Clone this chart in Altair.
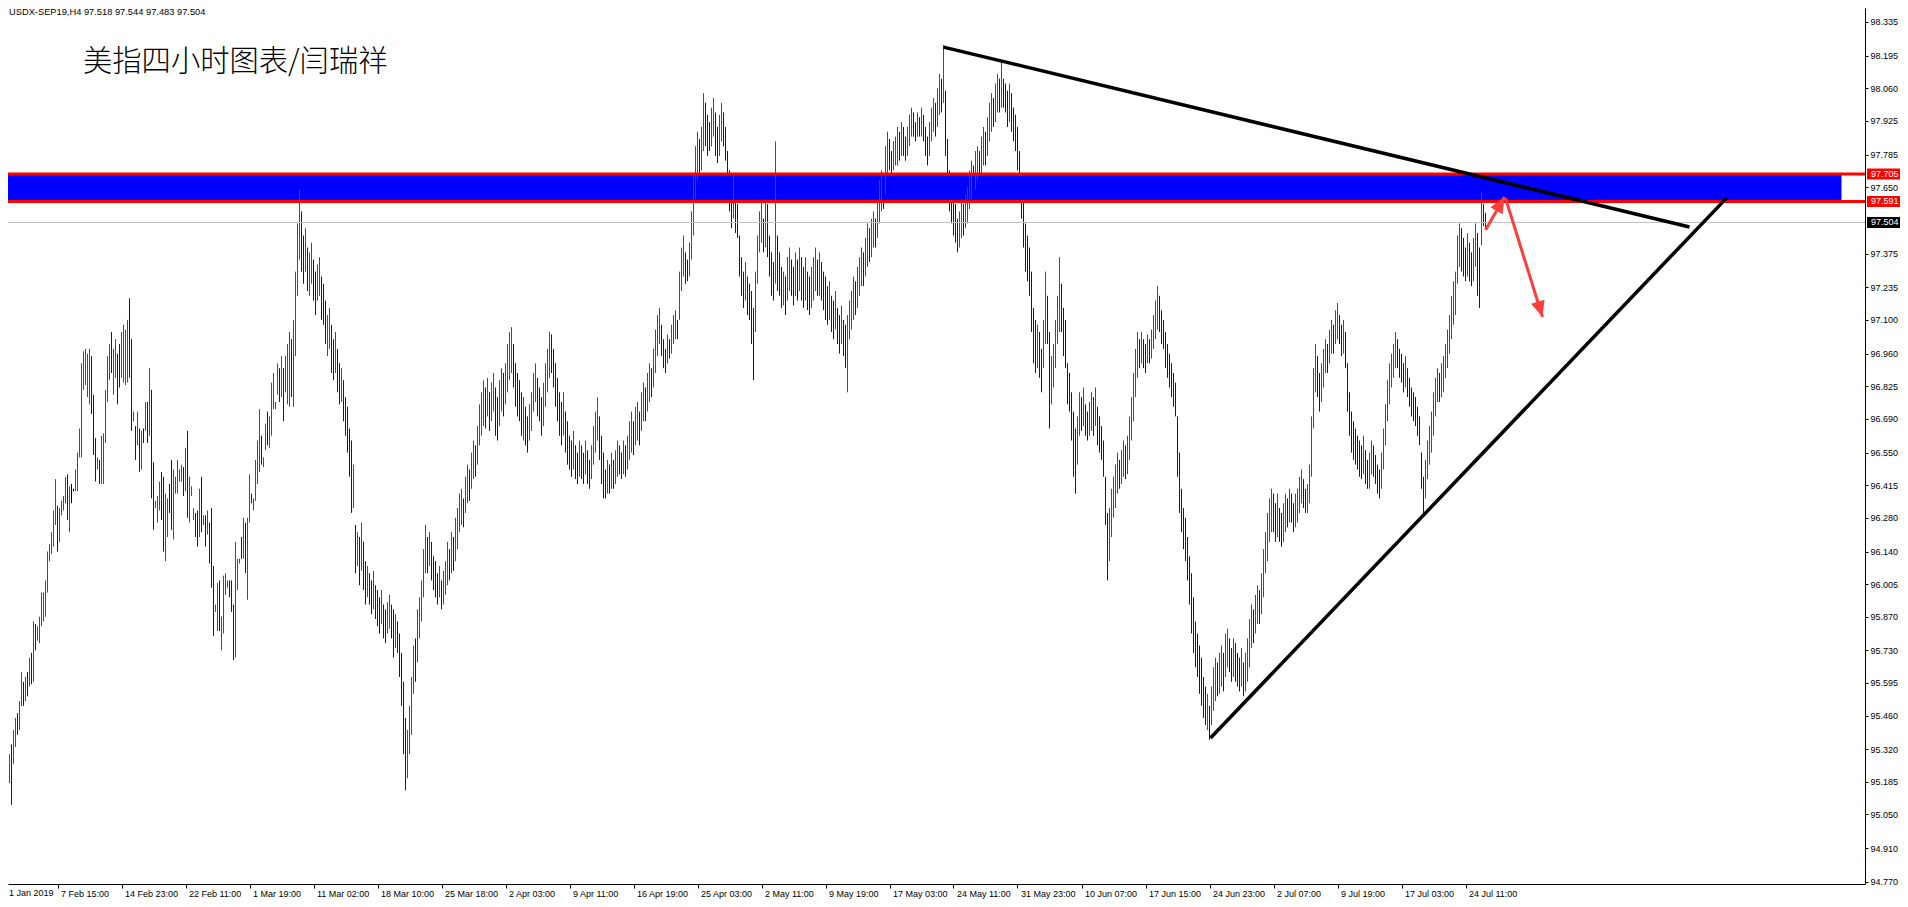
import altair as alt
import pandas as pd

# ---------------- data ----------------
symbol_caption = "USDX-SEP19,H4  97.518 97.544 97.483 97.504"
chart_title = "美指四小时图表/闫瑞祥"

high = [
95.36,95.33,95.38,95.32,95.30,95.34,95.40,95.45,95.47,95.52,
95.64,95.60,95.62,95.64,95.70,95.72,95.85,95.84,95.83,95.87,
95.97,95.97,96.02,96.14,96.17,96.22,96.31,96.44,96.33,96.32,
96.35,96.37,96.45,96.46,96.41,96.42,96.40,96.48,96.55,96.65,
96.92,96.97,96.98,96.96,96.98,96.95,96.79,96.61,96.53,96.52,
96.62,96.63,96.81,96.95,97.00,97.05,96.98,97.02,96.96,97.00,
97.05,97.08,97.06,97.10,97.19,97.02,96.72,96.66,96.72,96.65,
96.64,96.65,96.76,96.76,96.90,96.81,96.51,96.35,96.37,96.43,
96.47,96.45,96.38,96.36,96.42,96.52,96.48,96.45,96.52,96.48,
96.50,96.49,96.57,96.64,96.45,96.41,96.32,96.30,96.31,96.40,
96.45,96.29,96.29,96.31,96.26,96.32,96.08,95.92,96.01,96.02,
95.87,96.04,96.05,96.02,96.02,96.02,95.92,96.18,96.11,96.11,
96.20,96.28,96.26,96.28,96.46,96.38,96.36,96.52,96.60,96.73,
96.62,96.53,96.67,96.72,96.70,96.84,96.88,96.76,96.92,96.90,
96.95,96.90,96.95,97.00,97.05,97.02,97.10,97.30,97.50,97.64,
97.55,97.45,97.48,97.40,97.38,97.42,97.35,97.30,97.33,97.36,
97.28,97.25,97.18,97.12,97.15,97.08,97.02,97.05,96.98,96.92,
96.90,96.85,96.78,96.74,96.65,96.60,96.50,96.25,96.22,96.20,
96.26,96.18,96.10,96.08,96.05,96.02,96.06,96.00,95.98,95.95,
95.98,95.92,95.90,95.93,95.96,95.92,95.90,95.88,95.85,95.80,
95.72,95.60,95.45,95.40,95.50,95.62,95.75,95.78,95.90,95.95,
96.02,96.15,96.25,96.20,96.22,96.18,96.12,96.10,96.05,96.08,
96.02,96.06,96.10,96.18,96.15,96.22,96.20,96.28,96.32,96.38,
96.40,96.36,96.45,96.50,96.48,96.55,96.60,96.58,96.66,96.75,
96.80,96.85,96.82,96.86,96.80,96.84,96.88,96.82,96.78,96.85,
96.90,96.88,96.92,97.00,97.05,97.07,97.00,96.92,96.88,96.85,
96.80,96.78,96.74,96.70,96.75,96.80,96.88,96.92,96.86,96.82,
96.78,96.84,96.92,96.98,97.05,97.04,96.98,96.92,96.86,96.80,
96.76,96.80,96.72,96.68,96.62,96.60,96.64,96.58,96.55,96.60,
96.58,96.55,96.60,96.56,96.52,96.58,96.66,96.72,96.78,96.70,
96.62,96.55,96.48,96.52,96.50,96.55,96.52,96.56,96.60,96.58,
96.55,96.60,96.58,96.62,96.68,96.72,96.68,96.74,96.76,96.72,
96.80,96.84,96.82,96.88,96.92,96.90,96.98,97.06,97.12,97.15,
97.08,97.02,96.98,97.04,97.02,97.08,97.12,97.14,97.10,97.30,
97.40,97.45,97.38,97.35,97.42,97.55,97.70,97.82,97.88,97.85,
97.90,98.04,98.00,97.95,97.92,97.98,98.02,97.96,97.90,97.95,
98.00,97.96,97.90,97.80,97.72,97.65,97.70,97.62,97.58,97.45,
97.36,97.30,97.34,97.28,97.25,97.22,97.15,97.30,97.45,97.55,
97.60,97.52,97.60,97.58,97.45,97.38,97.34,97.84,97.45,97.38,
97.32,97.30,97.28,97.36,97.40,97.35,97.32,97.38,97.35,97.40,
97.36,97.32,97.36,97.30,97.28,97.32,97.36,97.40,97.35,97.38,
97.34,97.30,97.28,97.24,97.26,97.20,97.18,97.22,97.15,97.12,
97.16,97.10,97.08,97.12,97.18,97.22,97.28,97.26,97.32,97.36,
97.40,97.38,97.44,97.50,97.48,97.52,97.55,97.52,97.60,97.68,
97.72,97.70,97.82,97.88,97.85,97.80,97.84,97.86,97.90,97.88,
97.92,97.90,97.86,97.90,97.95,97.98,97.96,97.92,97.96,97.94,
97.98,97.95,97.90,97.86,97.92,97.98,98.02,98.00,98.06,98.12,
98.10,98.24,98.05,97.85,97.72,97.68,97.62,97.58,97.52,97.55,
97.60,97.58,97.62,97.65,97.72,97.76,97.74,97.80,97.82,97.80,
97.86,97.90,97.88,97.94,98.00,98.04,98.02,98.08,98.12,98.10,
98.17,98.10,98.08,98.05,98.08,98.04,97.98,97.95,97.90,97.80,
97.70,97.60,97.50,97.45,97.40,97.30,97.15,97.10,97.08,97.05,
96.98,97.10,97.30,97.20,97.05,96.95,97.00,97.10,97.20,97.36,
97.25,97.15,97.10,96.92,96.88,96.80,96.72,96.65,96.70,96.80,
96.78,96.82,96.75,96.72,96.76,96.80,96.78,96.82,96.74,96.70,
96.66,96.60,96.45,96.30,96.32,96.40,96.45,96.50,96.55,96.52,
96.56,96.60,96.58,96.62,96.70,96.78,96.88,96.98,97.05,97.02,
97.05,97.02,97.00,97.04,97.02,97.06,97.12,97.18,97.24,97.20,
97.14,97.10,97.05,97.00,96.96,96.92,96.88,96.84,96.70,96.55,
96.40,96.32,96.28,96.20,96.12,96.05,95.95,95.85,95.80,95.75,
95.70,95.62,95.58,95.55,95.50,95.58,95.66,95.70,95.68,95.72,
95.75,95.72,95.80,95.82,95.78,95.74,95.78,95.76,95.72,95.70,
95.74,95.68,95.72,95.78,95.86,95.92,95.90,95.96,96.00,95.98,
96.05,96.15,96.22,96.30,96.36,96.40,96.38,96.34,96.38,96.32,
96.30,96.34,96.38,96.36,96.40,96.38,96.34,96.38,96.40,96.45,
96.48,96.44,96.40,96.42,96.50,96.70,96.90,97.00,96.95,96.88,
96.92,96.98,97.02,97.00,97.06,97.10,97.08,97.14,97.17,97.12,
97.08,97.10,97.05,96.92,96.80,96.72,96.68,96.65,96.62,96.60,
96.58,96.62,96.56,96.52,96.55,96.60,96.58,96.54,96.50,96.48,
96.55,96.65,96.75,96.85,96.92,96.96,97.00,97.05,97.02,96.98,
96.96,96.92,96.95,96.90,96.86,96.82,96.80,96.78,96.74,96.70,
96.55,96.45,96.52,96.60,96.66,96.72,96.80,96.86,96.90,96.88,
96.92,96.95,97.00,97.06,97.12,97.20,97.26,97.30,97.45,97.50,
97.48,97.44,97.40,97.46,97.42,97.38,97.44,97.50,97.46,97.40,
97.63,97.58,97.544]

low = [
95.27,95.22,95.25,95.10,95.18,95.09,95.26,95.33,95.38,95.40,
95.50,95.50,95.52,95.54,95.58,95.59,95.60,95.73,95.77,95.76,
95.83,95.85,95.87,95.97,96.10,96.13,96.16,96.25,96.14,96.18,
96.29,96.31,96.34,96.27,96.22,96.34,96.39,96.39,96.39,96.53,
96.53,96.81,96.83,96.78,96.75,96.71,96.54,96.43,96.48,96.42,
96.42,96.42,96.59,96.76,96.85,96.88,96.79,96.86,96.75,96.82,
96.86,96.84,96.83,96.84,96.86,96.64,96.68,96.52,96.58,96.47,
96.48,96.59,96.64,96.59,96.62,96.36,96.23,96.32,96.26,96.31,
96.27,96.14,96.10,96.20,96.30,96.23,96.19,96.38,96.38,96.43,
96.43,96.37,96.39,96.28,96.26,96.37,96.27,96.20,96.16,96.20,
96.22,96.25,96.16,96.21,96.09,95.99,95.79,95.89,95.81,95.81,
95.73,95.80,95.96,95.99,95.95,95.89,95.69,95.70,95.98,96.09,
96.11,96.11,96.05,95.94,96.26,96.34,96.31,96.35,96.42,96.47,
96.50,96.49,96.56,96.58,96.57,96.62,96.73,96.73,96.79,96.76,
96.78,96.68,96.80,96.75,96.74,96.78,96.74,96.95,97.20,97.35,
97.30,97.25,97.30,97.22,97.20,97.25,97.18,97.12,97.18,97.20,
97.10,97.08,97.00,96.95,96.98,96.88,96.85,96.88,96.80,96.75,
96.76,96.68,96.62,96.55,96.45,96.30,96.32,96.05,96.08,96.00,
96.06,95.98,95.92,95.95,95.92,95.88,95.90,95.86,95.83,95.80,
95.84,95.78,95.76,95.80,95.82,95.78,95.70,95.74,95.72,95.62,
95.50,95.30,95.15,95.20,95.30,95.38,95.55,95.60,95.68,95.78,
95.85,95.95,96.05,96.05,96.08,96.02,95.98,95.95,95.92,95.95,
95.90,95.92,95.96,96.00,96.02,96.05,96.06,96.10,96.15,96.22,
96.25,96.24,96.30,96.34,96.35,96.40,96.44,96.45,96.50,96.58,
96.62,96.66,96.65,96.70,96.64,96.68,96.72,96.62,96.60,96.66,
96.72,96.70,96.75,96.80,96.85,96.88,96.82,96.74,96.70,96.68,
96.62,96.60,96.58,96.55,96.60,96.64,96.72,96.76,96.70,96.68,
96.62,96.66,96.74,96.80,96.86,96.88,96.82,96.74,96.68,96.62,
96.58,96.62,96.55,96.50,96.48,96.45,96.48,96.44,96.42,96.45,
96.44,96.42,96.46,96.42,96.40,96.44,96.50,96.55,96.60,96.52,
96.42,96.36,96.36,96.38,96.38,96.40,96.40,96.42,96.45,96.46,
96.44,96.46,96.45,96.48,96.52,96.55,96.54,96.58,96.60,96.58,
96.64,96.68,96.68,96.72,96.76,96.78,96.82,96.88,96.95,97.00,
96.95,96.90,96.88,96.92,96.94,96.96,97.00,97.02,97.02,97.10,
97.22,97.28,97.25,97.26,97.28,97.35,97.45,97.60,97.68,97.70,
97.72,97.80,97.82,97.78,97.80,97.82,97.86,97.78,97.75,97.78,
97.84,97.82,97.76,97.62,97.55,97.48,97.52,97.46,97.44,97.28,
97.20,97.15,97.18,97.12,97.10,97.00,96.85,97.05,97.25,97.38,
97.42,97.38,97.40,97.36,97.28,97.20,97.18,97.25,97.22,97.20,
97.15,97.16,97.12,97.18,97.22,97.20,97.16,97.20,97.18,97.22,
97.18,97.15,97.18,97.14,97.12,97.15,97.18,97.22,97.20,97.20,
97.18,97.14,97.10,97.08,97.10,97.05,97.02,97.06,97.00,96.96,
97.00,96.95,96.90,96.80,97.02,97.06,97.10,97.12,97.15,97.20,
97.24,97.24,97.28,97.32,97.34,97.36,97.40,97.40,97.44,97.50,
97.55,97.56,97.62,97.70,97.72,97.70,97.72,97.74,97.74,97.76,
97.78,97.78,97.76,97.78,97.82,97.86,97.86,97.84,97.86,97.86,
97.86,97.84,97.78,97.74,97.78,97.84,97.88,97.86,97.90,97.95,
97.96,98.00,97.78,97.62,97.55,97.50,97.45,97.42,97.38,97.40,
97.44,97.45,97.48,97.50,97.56,97.60,97.62,97.64,97.68,97.66,
97.70,97.74,97.74,97.78,97.84,97.88,97.90,97.92,97.96,97.96,
97.98,97.98,97.96,97.90,97.92,97.88,97.84,97.80,97.72,97.60,
97.52,97.40,97.30,97.26,97.20,97.05,96.92,96.88,96.90,96.86,
96.80,96.90,97.00,97.00,96.65,96.75,96.82,96.90,97.00,97.05,
97.05,96.95,96.90,96.75,96.72,96.60,96.45,96.38,96.50,96.62,
96.64,96.66,96.62,96.60,96.62,96.64,96.62,96.66,96.58,96.55,
96.52,96.45,96.25,96.02,96.10,96.20,96.28,96.32,96.38,96.40,
96.42,96.45,96.44,96.46,96.52,96.60,96.68,96.78,96.86,96.90,
96.92,96.90,96.88,96.92,96.92,96.94,96.98,97.02,97.06,97.05,
97.00,96.98,96.90,96.86,96.82,96.78,96.74,96.70,96.45,96.30,
96.22,96.15,96.10,96.02,95.92,95.80,95.72,95.66,95.62,95.55,
95.50,95.45,95.42,95.40,95.36,95.42,95.48,95.52,95.54,95.55,
95.58,95.56,95.62,95.66,95.64,95.60,95.62,95.60,95.58,95.56,
95.58,95.54,95.56,95.60,95.66,95.74,95.76,95.80,95.84,95.84,
95.88,95.95,96.05,96.10,96.18,96.22,96.22,96.18,96.20,96.18,
96.16,96.18,96.22,96.24,96.26,96.26,96.22,96.24,96.26,96.30,
96.34,96.32,96.30,96.30,96.34,96.45,96.65,96.80,96.78,96.72,
96.76,96.82,96.88,96.88,96.92,96.96,96.96,97.00,97.02,97.00,
96.95,96.96,96.90,96.72,96.62,96.55,96.52,96.50,96.48,96.45,
96.44,96.46,96.42,96.40,96.40,96.46,96.45,96.42,96.38,96.36,
96.40,96.48,96.58,96.68,96.75,96.82,96.86,96.90,96.90,96.86,
96.84,96.80,96.82,96.78,96.74,96.70,96.68,96.66,96.62,96.58,
96.40,96.30,96.36,96.44,96.50,96.55,96.62,96.70,96.76,96.76,
96.78,96.80,96.86,96.90,96.96,97.02,97.08,97.12,97.25,97.32,
97.30,97.28,97.26,97.28,97.26,97.24,97.26,97.32,97.20,97.15,
97.41,97.49,97.483]

# r = bar closed up (red), b = closed down (blue), k = unchanged (black)
direction = (
"brbbrbrrbr" "rbrbrbrbrr" "rrrrrrrrbr" "rrrbrkkrrr" "rrrrrbbbrb"
"rrrrrbrrbb" "rrrrbbrbrb" "rbrbrbbrrr" "bbrrbbrrrr" "rbrbrrrbbr"
"brbrbbbrrb" "rrrrbbbrrr" "brbrrbrrrr" "brrbrrrrrb" "rbrrrbrrrr"
"bbrbrrbbrr" "bbbrrbbrbb" "rbbbbbrbrb" "rbbrbbrbbb" "rbbrrbbrbb"
"bbbrrrrbrr" "rrrbrbbbbr" "brrrbrbrrr" "rbrrbrrbrr" "rrbrbrrbbr"
"rbrrrrbbbb" "brbbrrrrbb" "brrrrbbbbb" "brbbbbrbbr" "bbrbbrrrrb"
"bbbrbrbrrb" "brbrrrbrrb" "rrbrrbrrrr" "bbbrbrrrbr" "rrbbrrrrrb"
"rrbbbrrbbr" "rbbbbbrbbb" "bbrbbbbrrr" "rbrbbbbrbb" "brbrrbbrbr"
"bbrbbrrrbr" "bbbbrbbrbb" "rbbrrrrbrr" "rbrrbrrbrr" "rbrrbbrrrb"
"rbbrrrbbrb" "rbbbrrrbrr" "brbbbbbbbr" "rbrrrrbrrb" "rrbrrrbrrb"
"rbbbrbbbbb" "bbbbbbbbrb" "brrbbrrrrr" "bbbbbbbbrr" "brbbrrbrbb"
"bbbbrrrrrb" "rrbrrrrrrb" "rbbrbrrrrb" "bbbbbbbbbb" "bbbbbbbbbb"
"bbbrbrrrbr" "rbrrbbrbbb" "rbrrrrbrrb" "rrrrrrbbrb" "brrbrbbrrr"
"rbbrrrrrbb" "rrrbrrbrrb" "brbbbbbbbb" "brbbrrbbbb" "rrrrrrrrbb"
"bbrbbbbbbb" "bbrrrrrrrb" "rrrrrrrrrr" "bbbrbbrrbb" "rbb")

first_time_label = "1 Jan 2019"
time_tick_bars = [28, 60, 92, 124, 156, 188, 220, 252, 284, 316, 348,
                  380, 412, 444, 476, 508, 540, 572, 604, 636, 668, 700, 732]
time_tick_labels = ["7 Feb 15:00", "14 Feb 23:00", "22 Feb 11:00",
                    "1 Mar 19:00", "11 Mar 02:00", "18 Mar 10:00", "25 Mar 18:00",
                    "2 Apr 03:00", "9 Apr 11:00", "16 Apr 19:00", "25 Apr 03:00",
                    "2 May 11:00", "9 May 19:00", "17 May 03:00", "24 May 11:00",
                    "31 May 23:00", "10 Jun 07:00", "17 Jun 15:00", "24 Jun 23:00",
                    "2 Jul 07:00", "9 Jul 19:00", "17 Jul 03:00", "24 Jul 11:00"]
price_ticks = [98.335, 98.195, 98.060, 97.925, 97.785, 97.650, 97.375, 97.235,
               97.100, 96.960, 96.825, 96.690, 96.550, 96.415, 96.280, 96.140,
               96.005, 95.870, 95.730, 95.595, 95.460, 95.320, 95.185, 95.050,
               94.910, 94.770]

zone_low = 97.591
zone_high = 97.705
zone_end_bar = 920
last_price = 97.504

trend_id = ["down", "down", "up", "up"]
trend_bar = [471, 844, 604.5, 862.5]
trend_price = [98.231, 97.485, 95.367, 97.605]

arrow_tail_bar = [742, 752]
arrow_tail_price = [97.473, 97.605]
arrow_tip_bar = [751.5, 770.5]
arrow_tip_price = [97.610, 97.112]
arrow_angle = [30, 163]

# ---------------- chart ----------------
W, H = 1857, 876
FONT = "Liberation Sans"
xs = alt.Scale(domain=[3.25, 931.75], nice=False, zero=False)
ys = alt.Scale(domain=[94.7617, 98.393], nice=False, zero=False)

label_js = "[" + ",".join("'%s'" % s for s in time_tick_labels) + "]"
x_axis = alt.Axis(values=time_tick_bars, labelExpr=label_js + "[round((datum.value - 28) / 32)]",
                  orient="bottom", title=None, grid=False, domainColor="black", domainWidth=1,
                  tickColor="black", tickSize=4, tickWidth=1, labelAlign="left",
                  labelBaseline="top", labelOffset=3, labelPadding=1, labelFont=FONT,
                  labelFontSize=9, labelColor="black", labelOverlap=False,
                  labelBound=False, labelFlush=False)
y_axis = alt.Axis(values=price_ticks, format=".3f", orient="right", title=None, grid=False,
                  domainColor="black", domainWidth=1, tickColor="black", tickSize=3,
                  labelPadding=2, labelFont=FONT, labelFontSize=9, labelColor="black",
                  labelOverlap=False, labelBound=False, labelFlush=False)


def X(field):
    return alt.X(field, scale=xs, axis=x_axis)


def Y(field):
    return alt.Y(field, scale=ys, axis=y_axis)


n = min(len(high), len(low), len(direction))
bars_df = pd.DataFrame({"bar": list(range(n)), "high": high[:n], "low": low[:n],
                        "dir": list(direction[:n])})

zone = alt.Chart(pd.DataFrame({"b0": [-10], "b1": [zone_end_bar], "p0": [zone_low],
                               "p1": [zone_high]})).mark_rect(color="#0000ff", clip=True).encode(
    x=X("b0:Q"), x2="b1:Q", y=Y("p0:Q"), y2="p1:Q")

bars = alt.Chart(bars_df).mark_rule(strokeWidth=1).encode(
    x=X("bar:Q"), y=Y("low:Q"), y2="high:Q",
    color=alt.Color("dir:N", scale=alt.Scale(domain=["r", "b", "k"],
                                             range=["#ff0000", "#0000ff", "#000000"]),
                    legend=None))

hlines_df = pd.DataFrame({"p": [last_price, zone_high, zone_low],
                          "c": ["#c0c0c0", "#ff0000", "#ff0000"], "w": [1, 3, 3]})
hlines = alt.Chart(hlines_df).mark_rule().encode(
    y=Y("p:Q"), color=alt.Color("c:N", scale=None),
    strokeWidth=alt.StrokeWidth("w:Q", scale=None))

trend_df = pd.DataFrame({"id": trend_id, "bar": trend_bar, "price": trend_price})
trend = alt.Chart(trend_df).mark_line(color="black", strokeWidth=3.5, clip=True).encode(
    x=X("bar:Q"), y=Y("price:Q"), detail="id:N")

arrow_df = pd.DataFrame({"tb": arrow_tail_bar, "tp": arrow_tail_price,
                         "hb": arrow_tip_bar, "hp": arrow_tip_price, "ang": arrow_angle})
shafts = alt.Chart(arrow_df).mark_rule(color="#ff3c3c", strokeWidth=3).encode(
    x=X("tb:Q"), x2="hb:Q", y=Y("tp:Q"), y2="hp:Q")
heads = alt.Chart(arrow_df).mark_point(shape="M0,0 L-0.875,2 L0.875,2 Z", filled=True,
                                       size=256, color="#ff3c3c", opacity=1,
                                       strokeWidth=0).encode(
    x=X("hb:Q"), y=Y("hp:Q"), angle=alt.Angle("ang:Q", scale=None))

tags_df = pd.DataFrame({"p": [zone_high, zone_low, last_price],
                        "c": ["#ff0000", "#ff0000", "#000000"]})
tag_rect = alt.Chart(tags_df).transform_calculate(
    p0="datum.p - 0.0225", p1="datum.p + 0.0225").mark_rect().encode(
    x=alt.value(W + 2), x2=alt.value(W + 39),
    y=Y("p0:Q"), y2="p1:Q",
    color=alt.Color("c:N", scale=None))
tag_text = alt.Chart(tags_df).transform_calculate(t="format(datum.p, '.3f')").mark_text(
    align="left", baseline="middle", color="white", font=FONT, fontSize=9).encode(
    x=alt.value(W + 6), y=Y("p:Q"), text="t:N")

first_label = alt.Chart(pd.DataFrame({"t": [first_time_label]})).mark_text(
    align="left", baseline="top", font=FONT, fontSize=9, color="black").encode(
    x=alt.value(1), y=alt.value(H + 5), text="t:N")

title_mark = alt.Chart(pd.DataFrame({"t": [chart_title]})).mark_text(
    align="left", baseline="middle", font="Noto Sans CJK SC", fontSize=29.3,
    fontWeight=300, color="black").encode(x=alt.value(75), y=alt.value(53.5), text="t:N")
caption_mark = alt.Chart(pd.DataFrame({"t": [symbol_caption]})).mark_text(
    align="left", baseline="middle", font=FONT, fontSize=9.3, color="black").encode(
    x=alt.value(1), y=alt.value(4), text="t:N")

chart = alt.layer(zone, bars, hlines, trend, shafts, heads, tag_rect, tag_text,
                  first_label, title_mark, caption_mark).properties(
    width=W, height=H,
    autosize=alt.AutoSizeParams(type="none"),
    padding={"left": 0, "top": 0, "right": 35, "bottom": 15},
    background="white",
).configure_view(stroke=None)

chart.save("out.html", embed_options={"renderer": "svg", "actions": False})
